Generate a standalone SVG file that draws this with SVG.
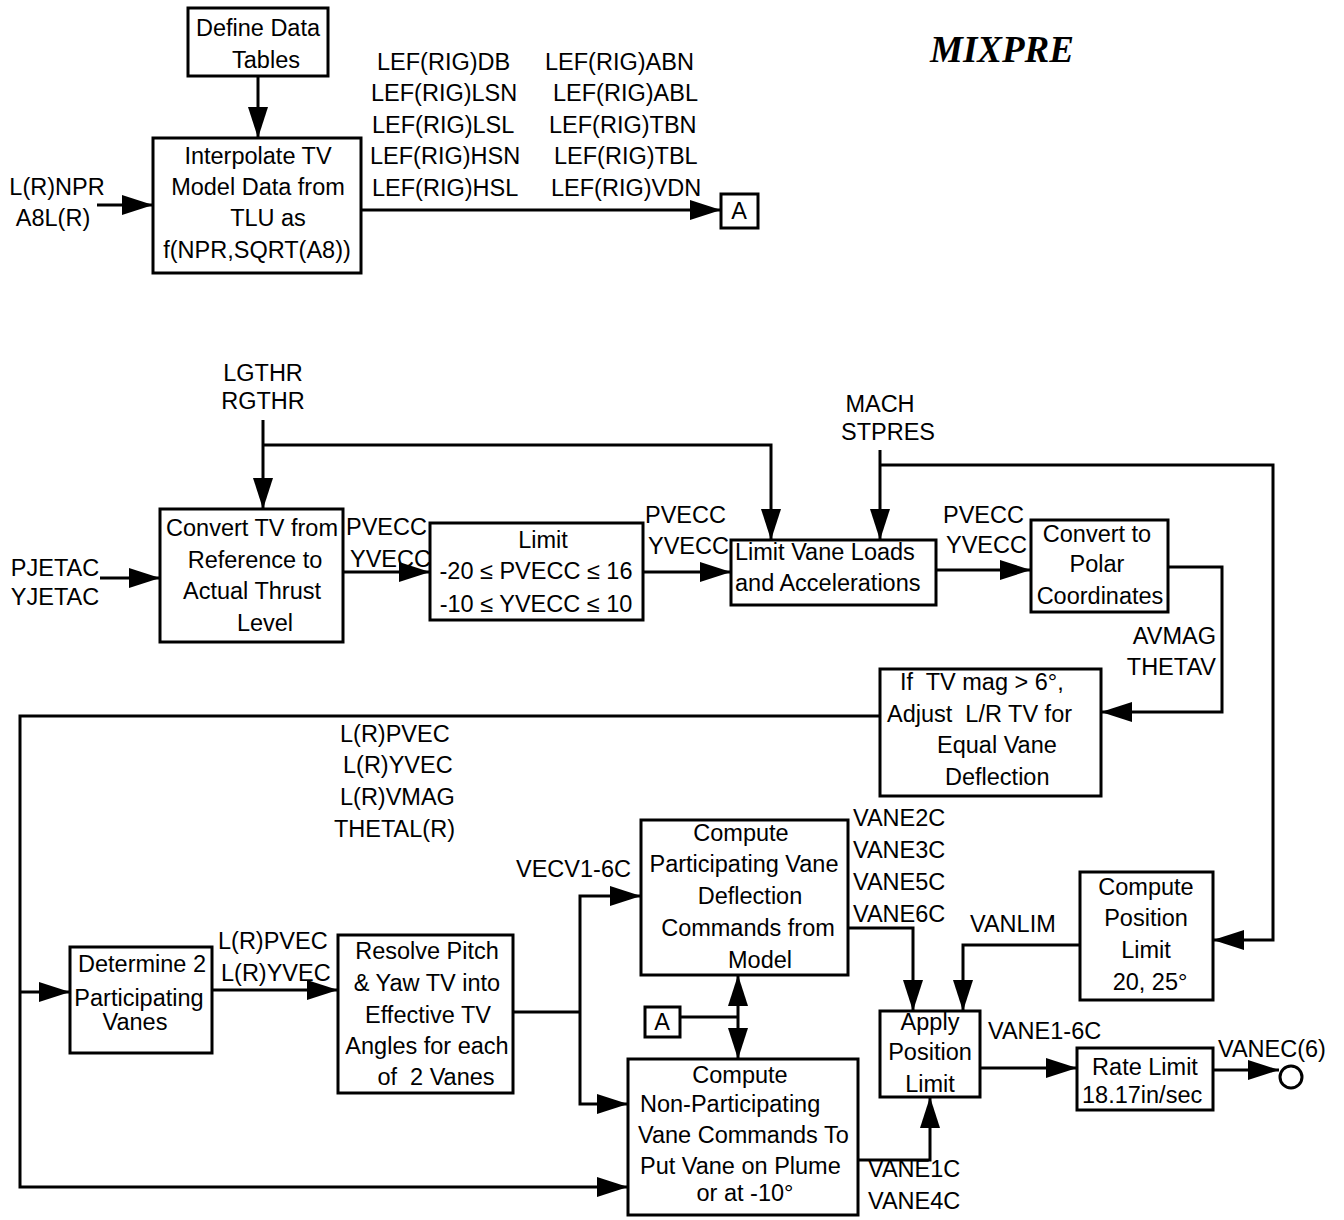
<svg xmlns="http://www.w3.org/2000/svg" width="1344" height="1220" viewBox="0 0 1344 1220">
<defs>
<marker id="ah" markerUnits="userSpaceOnUse" markerWidth="32" markerHeight="22" refX="31" refY="11" orient="auto-start-reverse" viewBox="0 0 32 22">
<path d="M0,1 L31,11 L0,21 z" fill="#000"/>
</marker>
<style>
.box{fill:#fff;stroke:#000;stroke-width:3}
text{font-family:"Liberation Sans",Arial,sans-serif;font-size:23.5px;fill:#000}
.m{text-anchor:middle}
.e{text-anchor:end}
.c{fill:none;stroke:#000;stroke-width:3}
.a{marker-end:url(#ah)}
.title{font-family:"Liberation Serif","Times New Roman",serif;font-weight:bold;font-style:italic;font-size:37px}
</style>
</defs>
<rect width="1344" height="1220" fill="#fff"/>
<text class="title" x="930" y="62">MIXPRE</text>

<g id="connectors">
<path class="c a" d="M258,76 V138"/>
<path class="c a" d="M97,205 H153"/>
<path class="c a" d="M361,210 H721"/>
<path class="c a" d="M263,420 V509"/>
<path class="c a" d="M263,445 H771 V540"/>
<path class="c a" d="M100,578 H160"/>
<path class="c a" d="M343,572 H430"/>
<path class="c a" d="M643,572 H731"/>
<path class="c a" d="M880,450 V540"/>
<path class="c a" d="M880,465 H1273 V940 H1213"/>
<path class="c a" d="M936,570 H1031"/>
<path class="c a" d="M1168,567 H1222 V712 H1101"/>
<path class="c a" d="M880,716 H20 V1187 H628"/>
<path class="c a" d="M20,992 H70"/>
<path class="c a" d="M212,990 H338"/>
<path class="c" d="M513,1012 H580"/>
<path class="c a" d="M580,1012 V896 H641"/>
<path class="c a" d="M580,1012 V1104 H628"/>
<path class="c a" d="M848,928 H913 V1011"/>
<path class="c a" d="M1080,945 H963 V1011"/>
<path class="c a" d="M858,1160 H930 V1097"/>
<path class="c a" d="M980,1068 H1077"/>
<path class="c a" d="M1213,1070 H1279"/>
<path class="c a" d="M738,975 V1059" marker-start="url(#ah)"/>
<path class="c" d="M680,1017 H738"/>
</g>

<g id="labels">
<text class="m" x="57" y="195">L(R)NPR</text>
<text class="m" x="53" y="226">A8L(R)</text>
<text x="377" y="70">LEF(RIG)DB</text>
<text x="371" y="101">LEF(RIG)LSN</text>
<text x="372" y="133">LEF(RIG)LSL</text>
<text x="370" y="164">LEF(RIG)HSN</text>
<text x="372" y="196">LEF(RIG)HSL</text>
<text x="545" y="70">LEF(RIG)ABN</text>
<text x="553" y="101">LEF(RIG)ABL</text>
<text x="549" y="133">LEF(RIG)TBN</text>
<text x="554" y="164">LEF(RIG)TBL</text>
<text x="551" y="196">LEF(RIG)VDN</text>
<text class="m" x="263" y="381">LGTHR</text>
<text class="m" x="263" y="409">RGTHR</text>
<text class="m" x="880" y="412">MACH</text>
<text class="m" x="888" y="440">STPRES</text>
<text class="m" x="55" y="576">PJETAC</text>
<text class="m" x="55" y="605">YJETAC</text>
<text x="346" y="535">PVECC</text>
<text x="350" y="567">YVECC</text>
<text x="645" y="523">PVECC</text>
<text x="648" y="554">YVECC</text>
<text x="943" y="523">PVECC</text>
<text x="946" y="553">YVECC</text>
<text class="e" x="1216" y="644">AVMAG</text>
<text class="e" x="1216" y="675">THETAV</text>
<text x="340" y="742">L(R)PVEC</text>
<text x="343" y="773">L(R)YVEC</text>
<text x="340" y="805">L(R)VMAG</text>
<text x="334" y="837">THETAL(R)</text>
<text x="516" y="877">VECV1-6C</text>
<text x="218" y="949">L(R)PVEC</text>
<text x="221" y="981">L(R)YVEC</text>
<text x="853" y="826">VANE2C</text>
<text x="853" y="858">VANE3C</text>
<text x="853" y="890">VANE5C</text>
<text x="853" y="922">VANE6C</text>
<text x="970" y="932">VANLIM</text>
<text x="988" y="1039">VANE1-6C</text>
<text x="1218" y="1057">VANEC(6)</text>
<text x="868" y="1177">VANE1C</text>
<text x="868" y="1209">VANE4C</text>
</g>

<g id="define">
<rect class="box" x="188" y="8" width="140" height="68"/>
<text class="m" x="258" y="36">Define Data</text>
<text class="m" x="266" y="68">Tables</text>
</g>
<g id="interpolate">
<rect class="box" x="153" y="138" width="208" height="135"/>
<text class="m" x="258" y="164">Interpolate TV</text>
<text class="m" x="258" y="195">Model Data from</text>
<text class="m" x="268" y="226">TLU as</text>
<text class="m" x="257" y="258">f(NPR,SQRT(A8))</text>
</g>
<g id="connA1">
<rect class="box" x="721" y="194" width="37" height="34"/>
<text class="m" x="739" y="219">A</text>
</g>
<g id="convertTV">
<rect class="box" x="160" y="509" width="183" height="133"/>
<text class="m" x="252" y="536">Convert TV from</text>
<text class="m" x="255" y="568">Reference to</text>
<text class="m" x="252" y="599">Actual Thrust</text>
<text class="m" x="265" y="631">Level</text>
</g>
<g id="limit">
<rect class="box" x="430" y="523" width="213" height="97"/>
<text class="m" x="543" y="548">Limit</text>
<text class="m" x="536" y="579">-20 ≤ PVECC ≤ 16</text>
<text class="m" x="536" y="612">-10 ≤ YVECC ≤ 10</text>
</g>
<g id="limitVane">
<rect class="box" x="731" y="540" width="205" height="65"/>
<text x="735" y="560">Limit Vane Loads</text>
<text x="735" y="591">and Accelerations</text>
</g>
<g id="polar">
<rect class="box" x="1031" y="520" width="137" height="92"/>
<text class="m" x="1097" y="542">Convert to</text>
<text class="m" x="1097" y="572">Polar</text>
<text class="m" x="1100" y="604">Coordinates</text>
</g>
<g id="ifTV">
<rect class="box" x="880" y="669" width="221" height="127"/>
<text x="900" y="690" xml:space="preserve">If  TV mag &gt; 6°,</text>
<text x="887" y="722" xml:space="preserve">Adjust  L/R TV for</text>
<text x="937" y="753">Equal Vane</text>
<text x="945" y="785">Deflection</text>
</g>
<g id="determine">
<rect class="box" x="70" y="947" width="142" height="106"/>
<text class="m" x="142" y="972">Determine 2</text>
<text class="m" x="139" y="1006">Participating</text>
<text class="m" x="135" y="1030">Vanes</text>
</g>
<g id="resolve">
<rect class="box" x="338" y="935" width="175" height="158"/>
<text class="m" x="427" y="959">Resolve Pitch</text>
<text class="m" x="427" y="991">&amp; Yaw TV into</text>
<text class="m" x="428" y="1023">Effective TV</text>
<text class="m" x="427" y="1054">Angles for each</text>
<text class="m" x="436" y="1085" xml:space="preserve">of  2 Vanes</text>
</g>
<g id="computePart">
<rect class="box" x="641" y="820" width="207" height="155"/>
<text class="m" x="741" y="841">Compute</text>
<text class="m" x="744" y="872">Participating Vane</text>
<text class="m" x="750" y="904">Deflection</text>
<text class="m" x="748" y="936">Commands from</text>
<text class="m" x="760" y="968">Model</text>
</g>
<g id="connA2">
<rect class="box" x="645" y="1007" width="35" height="30"/>
<text class="m" x="662" y="1030">A</text>
</g>
<g id="computeNonPart">
<rect class="box" x="628" y="1059" width="230" height="156"/>
<text class="m" x="740" y="1083">Compute</text>
<text x="640" y="1112">Non-Participating</text>
<text x="638" y="1143">Vane Commands To</text>
<text x="640" y="1174">Put Vane on Plume</text>
<text class="m" x="745" y="1201">or at -10°</text>
</g>
<g id="posLimit">
<rect class="box" x="1080" y="872" width="133" height="128"/>
<text class="m" x="1146" y="895">Compute</text>
<text class="m" x="1146" y="926">Position</text>
<text class="m" x="1146" y="958">Limit</text>
<text class="m" x="1150" y="990">20, 25°</text>
</g>
<g id="apply">
<rect class="box" x="880" y="1011" width="100" height="86"/>
<text class="m" x="930" y="1030">Apply</text>
<text class="m" x="930" y="1060">Position</text>
<text class="m" x="930" y="1092">Limit</text>
</g>
<g id="rateLimit">
<rect class="box" x="1077" y="1048" width="136" height="62"/>
<text class="m" x="1145" y="1075">Rate Limit</text>
<text x="1082" y="1103">18.17in/sec</text>
</g>
<g id="output">
<circle cx="1291" cy="1077" r="11" fill="#fff" stroke="#000" stroke-width="3"/>
</g>
</svg>
